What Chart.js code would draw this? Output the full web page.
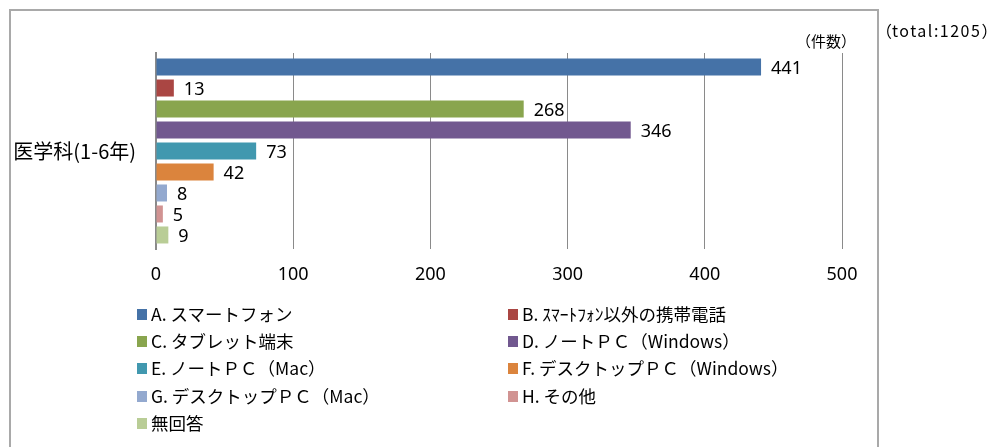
<!DOCTYPE html>
<html><head><meta charset="utf-8">
<script src="https://cdn.jsdelivr.net/npm/chart.js@4"></script>
<style>
body{margin:0;background:#fff;width:990px;height:447px;overflow:hidden;position:relative;font-family:"Noto Sans CJK JP",sans-serif;}
#frame{position:absolute;left:9px;top:9px;width:866px;height:460px;border:2px solid #a9a9a9;}
#wrap{position:absolute;left:0;top:0;width:990px;height:447px;}
.note{position:absolute;color:#000;white-space:nowrap;line-height:20px;}
#legend{position:absolute;left:0;top:0;}
.li{position:absolute;font-size:17.5px;white-space:nowrap;line-height:20px;height:20px;}
.li span.b{position:absolute;left:0;top:5px;width:10px;height:11px;}
.li span.t{position:absolute;left:14px;top:0;}
</style></head>
<body>
<div id="frame"></div>
<div id="wrap"><canvas id="c" width="990" height="447"></canvas></div>
<div class="note" style="left:796px;top:31px;font-size:15px;">（件数）</div>
<div class="note" style="left:876px;top:20px;font-size:16px;">（<span style="letter-spacing:1.5px">total:1205</span>）</div>
<div id="legend"></div>
<script>
const categories = ["医学科(1-6年)"];
const seriesNames = ["A. スマートフォン","B. ｽﾏｰﾄﾌｫﾝ以外の携帯電話","C. タブレット端末","D. ノートＰＣ（Windows）","E. ノートＰＣ（Mac）","F. デスクトップＰＣ（Windows）","G. デスクトップＰＣ（Mac）","H. その他","無回答"];
const seriesValues = [441,13,268,346,73,42,8,5,9];
const seriesColors = ["#4572A7","#AA4643","#89A54E","#71588F","#4198AF","#DB843D","#93A9CF","#D19392","#B9CD96"];
const xTicks = [0,100,200,300,400,500];

const datasets = seriesNames.map((n,i)=>({label:n,data:[seriesValues[i]],backgroundColor:seriesColors[i],categoryPercentage:0.964,barPercentage:0.81}));

const labelPlugin = {
  id:'vlabels',
  afterDatasetsDraw(chart){
    const ctx=chart.ctx;
    ctx.save();
    ctx.font='18px "Noto Sans", "Liberation Sans", sans-serif';
    ctx.fillStyle='#000';
    ctx.textBaseline='middle';
    ctx.textAlign='left';
    chart.data.datasets.forEach((ds,i)=>{
      const meta=chart.getDatasetMeta(i);
      meta.data.forEach((el,j)=>{
        ctx.fillText(String(ds.data[j]), el.x+10, el.y+2);
      });
    });
    ctx.restore();
  }
};

new Chart(document.getElementById('c'),{
  type:'bar',
  data:{labels:categories,datasets},
  options:{
    indexAxis:'y',
    responsive:false,
    animation:false,
    layout:{padding:{left:0,top:53,right:148,bottom:157}},
    plugins:{legend:{display:false},tooltip:{enabled:false}},
    scales:{
      x:{min:0,max:500,
        afterBuildTicks(s){s.ticks=xTicks.map(v=>({value:v}));},
        afterFit(s){s.height=41;},
        grid:{color:'#8a8a8a',lineWidth:1,drawTicks:false},
        border:{display:false},
        ticks:{padding:15,color:'#000',font:{size:18,family:'"Noto Sans", "Liberation Sans", sans-serif'}}
      },
      y:{
        afterFit(s){s.width=156;},
        grid:{display:false,drawTicks:false},
        border:{display:true,color:'#8a8a8a',width:2},
        ticks:{padding:20,color:'#000',font:{size:20,family:'"Noto Sans CJK JP", sans-serif'}}
      }
    }
  },
  plugins:[labelPlugin]
});

const leg=document.getElementById('legend');
const colX=[137,508];
const rowY=[304,331,358,386,413];
seriesNames.forEach((n,i)=>{
  const d=document.createElement('div');
  d.className='li';
  d.style.left=colX[i%2]+'px';
  d.style.top=rowY[Math.floor(i/2)]+'px';
  d.innerHTML='<span class="b" style="background:'+seriesColors[i]+'"></span><span class="t">'+n+'</span>';
  leg.appendChild(d);
});
</script>
</body></html>
